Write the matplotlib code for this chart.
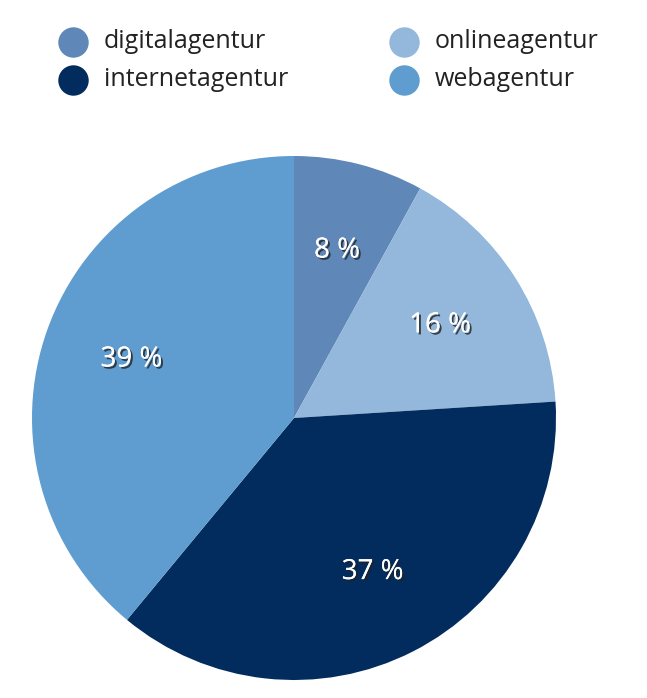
import matplotlib.pyplot as plt
import matplotlib.patheffects as pe

labels = ["digitalagentur", "onlineagentur", "internetagentur", "webagentur"]
shares = [8, 16, 37, 39]
colors = ["#5f88b8", "#93b8db", "#022b5e", "#5f9dd0"]

W, H = 647, 698
fig = plt.figure(figsize=(W / 100, H / 100), dpi=100)

# pie axes: centre (294, 418), radius 262 px
cx, cy, r = 294, 418, 262
ax = fig.add_axes([(cx - r) / W, (H - cy - r) / H, 2 * r / W, 2 * r / H])
wedges, _, autotexts = ax.pie(shares, colors=colors, startangle=90, counterclock=False,
                              autopct=lambda p: f"{p:.0f} %", pctdistance=0.66,
                              wedgeprops=dict(linewidth=0))
for t in autotexts:
    t.set_color("white")
    t.set_fontsize(20)
    t.set_family("Open Sans")
    t.set_path_effects([pe.withSimplePatchShadow(offset=(1.5, -1.5), shadow_rgbFace="#222222", alpha=0.8),
                        pe.Normal()])
ax.set_xlim(-1, 1)
ax.set_ylim(-1, 1)
ax.set_aspect("equal")

# legend, column-first order as in the reference
leg_pos = {"digitalagentur": (73, 42), "internetagentur": (73, 80),
           "onlineagentur": (404, 42), "webagentur": (404, 80)}
lax = fig.add_axes([0, 0, 1, 1])
lax.set_xlim(0, W)
lax.set_ylim(H, 0)
lax.axis("off")
for name, col in zip(labels, colors):
    x, y = leg_pos[name]
    lax.scatter([x], [y], s=480, color=col, linewidths=0)
    lax.text(x + 31, y, name, fontsize=18, va="center", ha="left", color="#222222",
             family="Open Sans")

fig.savefig("out.png", dpi=100)
